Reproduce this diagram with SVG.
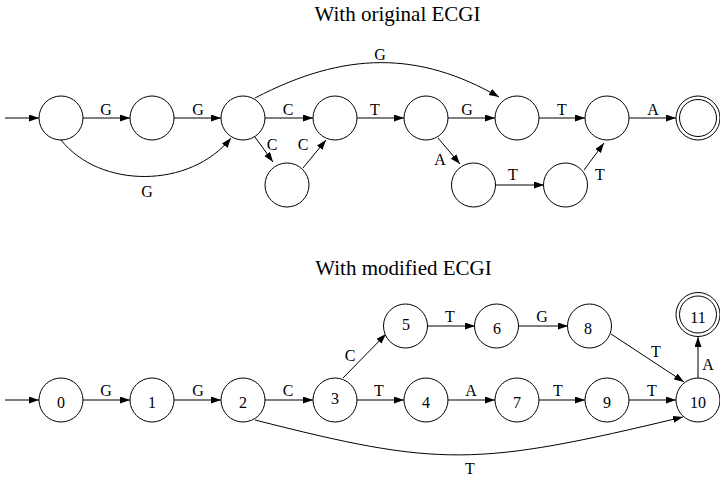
<svg xmlns="http://www.w3.org/2000/svg" width="720" height="480" viewBox="0 0 720 480">
<style>
.n{fill:#fff;stroke:#000;stroke-width:1}
.e{fill:none;stroke:#000;stroke-width:1;marker-end:url(#ah)}
.t{font-family:"Liberation Serif","Times New Roman",serif;font-size:16px;fill:#000;text-anchor:middle}
.h{font-family:"Liberation Serif","Times New Roman",serif;font-size:21px;fill:#000;text-anchor:middle}
</style>
<defs>
<marker id="ah" markerUnits="userSpaceOnUse" markerWidth="11" markerHeight="8" refX="10" refY="3.5" orient="auto">
<path d="M0,0 L10,3.5 L0,7 z" fill="#000"/>
</marker>
</defs>
<rect width="720" height="480" fill="#fff"/>
<text class="h" x="397.5" y="20.5">With original ECGI</text>
<text class="h" x="403.5" y="275">With modified ECGI</text>

<g id="edges-top">
<line class="e" x1="5" y1="118" x2="39" y2="118"/>
<line class="e" x1="83" y1="118" x2="130" y2="118"/>
<line class="e" x1="174" y1="118" x2="221" y2="118"/>
<line class="e" x1="265" y1="118" x2="313" y2="118"/>
<line class="e" x1="357" y1="118" x2="404" y2="118"/>
<line class="e" x1="448" y1="118" x2="495" y2="118"/>
<line class="e" x1="539" y1="118" x2="585" y2="118"/>
<line class="e" x1="629" y1="118" x2="676" y2="118"/>
<path class="e" d="M61,140 C100,189 190,189 231,138"/>
<path class="e" d="M255,98 C345,51 419,51 499,97"/>
<line class="e" x1="255" y1="137" x2="273" y2="162"/>
<line class="e" x1="303" y1="168" x2="326" y2="140"/>
<line class="e" x1="438" y1="138" x2="460" y2="164"/>
<line class="e" x1="496" y1="185" x2="544" y2="185"/>
<line class="e" x1="584" y1="170" x2="604" y2="143"/>
<text class="t" x="106" y="114.5">G</text>
<text class="t" x="198" y="114.5">G</text>
<text class="t" x="288" y="114.5">C</text>
<text class="t" x="375" y="114.5">T</text>
<text class="t" x="467" y="114.5">G</text>
<text class="t" x="562" y="114.5">T</text>
<text class="t" x="653" y="114.5">A</text>
<text class="t" x="147" y="197">G</text>
<text class="t" x="380" y="60">G</text>
<text class="t" x="272" y="150">C</text>
<text class="t" x="303" y="150">C</text>
<text class="t" x="440" y="165">A</text>
<text class="t" x="513" y="180">T</text>
<text class="t" x="600" y="180">T</text>
</g>

<g id="t0"><circle class="n" cx="61" cy="118" r="22"/></g>
<g id="t1"><circle class="n" cx="152" cy="118" r="22"/></g>
<g id="t2"><circle class="n" cx="243" cy="118" r="22"/></g>
<g id="t3"><circle class="n" cx="335" cy="118" r="22"/></g>
<g id="t4"><circle class="n" cx="426" cy="118" r="22"/></g>
<g id="t5"><circle class="n" cx="517" cy="118" r="22"/></g>
<g id="t6"><circle class="n" cx="607" cy="118" r="22"/></g>
<g id="t7"><circle class="n" cx="698" cy="118" r="22"/><circle class="n" cx="698" cy="118" r="18.5"/></g>
<g id="tc"><circle class="n" cx="287" cy="185" r="22"/></g>
<g id="ta"><circle class="n" cx="473.5" cy="185" r="22"/></g>
<g id="tt"><circle class="n" cx="565.5" cy="185" r="22"/></g>

<g id="edges-bottom">
<line class="e" x1="5" y1="400" x2="39" y2="400"/>
<line class="e" x1="83" y1="400" x2="130" y2="400"/>
<line class="e" x1="174" y1="400" x2="221" y2="400"/>
<line class="e" x1="265" y1="400" x2="313" y2="400"/>
<line class="e" x1="357" y1="400" x2="404" y2="400"/>
<line class="e" x1="448" y1="400" x2="495" y2="400"/>
<line class="e" x1="539" y1="400" x2="585" y2="400"/>
<line class="e" x1="629" y1="400" x2="676" y2="400"/>
<line class="e" x1="343" y1="378" x2="386" y2="334"/>
<line class="e" x1="427.5" y1="326" x2="475" y2="326"/>
<line class="e" x1="518.5" y1="326" x2="568" y2="326"/>
<line class="e" x1="611" y1="334" x2="684" y2="382"/>
<line class="e" x1="698" y1="378" x2="698" y2="337"/>
<path class="e" d="M255,420 C440,467 475,467 683,417"/>
<text class="t" x="106" y="396">G</text>
<text class="t" x="198" y="396">G</text>
<text class="t" x="288" y="396">C</text>
<text class="t" x="379" y="396">T</text>
<text class="t" x="471" y="396">A</text>
<text class="t" x="558" y="396">T</text>
<text class="t" x="652" y="396">T</text>
<text class="t" x="350" y="361">C</text>
<text class="t" x="450" y="322">T</text>
<text class="t" x="542" y="322">G</text>
<text class="t" x="656" y="357">T</text>
<text class="t" x="708" y="370">A</text>
<text class="t" x="470" y="474">T</text>
</g>

<g id="b0"><circle class="n" cx="61" cy="400" r="22"/><text class="t" x="61" y="408">0</text></g>
<g id="b1"><circle class="n" cx="152" cy="400" r="22"/><text class="t" x="152" y="408">1</text></g>
<g id="b2"><circle class="n" cx="243" cy="400" r="22"/><text class="t" x="243" y="408">2</text></g>
<g id="b3"><circle class="n" cx="335" cy="400" r="22"/><text class="t" x="335" y="404">3</text></g>
<g id="b4"><circle class="n" cx="426" cy="400" r="22"/><text class="t" x="426" y="408">4</text></g>
<g id="b7"><circle class="n" cx="517" cy="400" r="22"/><text class="t" x="517" y="408">7</text></g>
<g id="b9"><circle class="n" cx="607" cy="400" r="22"/><text class="t" x="607" y="408">9</text></g>
<g id="b10"><circle class="n" cx="698" cy="400" r="22"/><text class="t" x="698" y="408">10</text></g>
<g id="b5"><circle class="n" cx="405.5" cy="326" r="22"/><text class="t" x="406" y="330">5</text></g>
<g id="b6"><circle class="n" cx="496.5" cy="326" r="22"/><text class="t" x="497" y="334">6</text></g>
<g id="b8"><circle class="n" cx="589.5" cy="326" r="22"/><text class="t" x="588" y="334">8</text></g>
<g id="b11"><circle class="n" cx="698" cy="314.5" r="22"/><circle class="n" cx="698" cy="314.5" r="18.5"/><text class="t" x="698" y="322.5">11</text></g>
</svg>
